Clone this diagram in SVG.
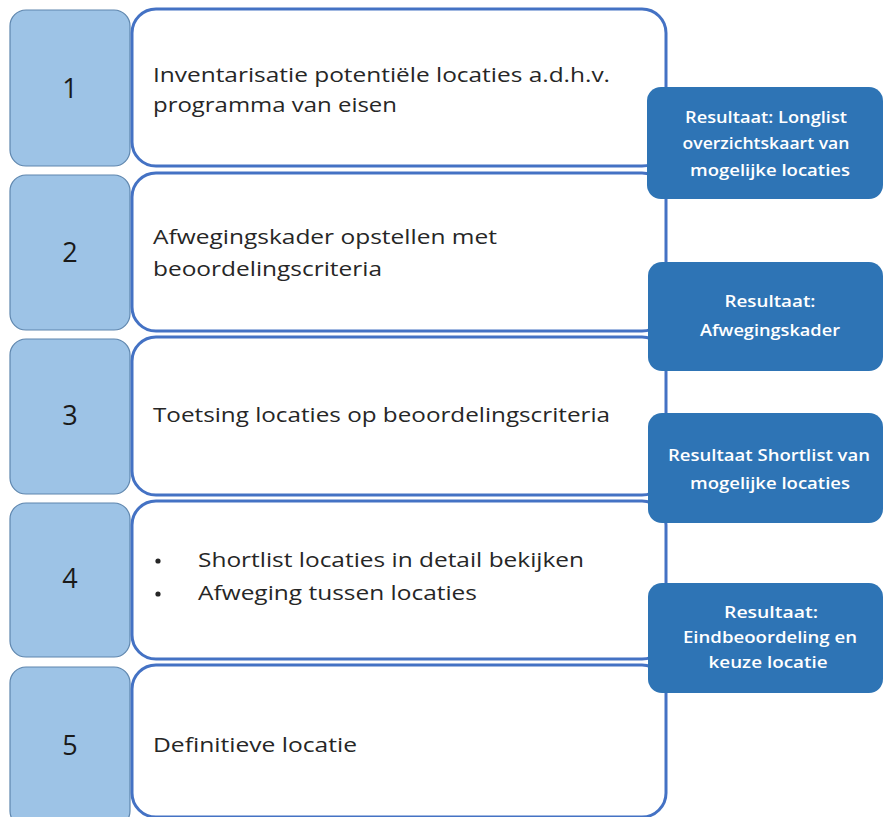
<svg xmlns="http://www.w3.org/2000/svg" width="884" height="817" viewBox="0 0 884 817">
<style>
.num{fill:#9DC3E6;stroke:#5E86AE;stroke-width:1.2}
.step{fill:#FFFFFF;stroke:#4472C4;stroke-width:3}
.res{fill:#2E74B5;stroke:none}
.nt{font-family:"Open Sans","Liberation Sans",sans-serif;font-size:27px;fill:#1a1a1a;text-anchor:middle}
.st{font-family:"Open Sans","Liberation Sans",sans-serif;font-size:20.5px;fill:#262626}
.rt{font-family:"Open Sans","Liberation Sans",sans-serif;font-size:15.5px;fill:#FFFFFF;text-anchor:middle;font-weight:600}
</style>
<rect width="884" height="817" fill="#FFFFFF"/>
<g id="step1">
<rect class="num" x="10" y="10" width="120" height="156" rx="16"/>
<text class="nt" x="70" y="98">1</text>
<rect class="step" x="132" y="9" width="534" height="157" rx="24"/>
<text class="st" x="153" y="82" textLength="457" lengthAdjust="spacingAndGlyphs">Inventarisatie potentiële locaties a.d.h.v.</text>
<text class="st" x="153" y="112" textLength="244" lengthAdjust="spacingAndGlyphs">programma van eisen</text>
</g>
<g id="step2">
<rect class="num" x="10" y="175" width="120" height="155" rx="16"/>
<text class="nt" x="70" y="262">2</text>
<rect class="step" x="132" y="173" width="534" height="158" rx="24"/>
<text class="st" x="153" y="244" textLength="344" lengthAdjust="spacingAndGlyphs">Afwegingskader opstellen met</text>
<text class="st" x="153" y="276" textLength="229" lengthAdjust="spacingAndGlyphs">beoordelingscriteria</text>
</g>
<g id="step3">
<rect class="num" x="10" y="339" width="120" height="155" rx="16"/>
<text class="nt" x="70" y="425">3</text>
<rect class="step" x="132" y="337" width="534" height="158" rx="24"/>
<text class="st" x="153" y="422" textLength="457" lengthAdjust="spacingAndGlyphs">Toetsing locaties op beoordelingscriteria</text>
</g>
<g id="step4">
<rect class="num" x="10" y="503" width="120" height="154" rx="16"/>
<text class="nt" x="70" y="588">4</text>
<rect class="step" x="132" y="501" width="534" height="158" rx="24"/>
<circle cx="158" cy="561" r="2.6" fill="#262626"/>
<text class="st" x="198" y="567" textLength="386" lengthAdjust="spacingAndGlyphs">Shortlist locaties in detail bekijken</text>
<circle cx="158" cy="594" r="2.6" fill="#262626"/>
<text class="st" x="198" y="600" textLength="279" lengthAdjust="spacingAndGlyphs">Afweging tussen locaties</text>
</g>
<g id="step5">
<rect class="num" x="10" y="667" width="120" height="160" rx="16"/>
<text class="nt" x="70" y="755">5</text>
<rect class="step" x="132" y="665" width="534" height="152" rx="24"/>
<text class="st" x="153" y="752" textLength="204" lengthAdjust="spacingAndGlyphs">Definitieve locatie</text>
</g>
<g id="result1">
<rect class="res" x="647" y="87" width="236" height="112" rx="14"/>
<text class="rt" x="766" y="123" textLength="162" lengthAdjust="spacingAndGlyphs">Resultaat: Longlist</text>
<text class="rt" x="766" y="149" textLength="167" lengthAdjust="spacingAndGlyphs">overzichtskaart van</text>
<text class="rt" x="770" y="176" textLength="160" lengthAdjust="spacingAndGlyphs">mogelijke locaties</text>
</g>
<g id="result2">
<rect class="res" x="648" y="262" width="235" height="109" rx="14"/>
<text class="rt" x="770" y="307" textLength="91" lengthAdjust="spacingAndGlyphs">Resultaat:</text>
<text class="rt" x="770" y="336" textLength="140" lengthAdjust="spacingAndGlyphs">Afwegingskader</text>
</g>
<g id="result3">
<rect class="res" x="648" y="413" width="235" height="110" rx="14"/>
<text class="rt" x="769" y="461" textLength="202" lengthAdjust="spacingAndGlyphs">Resultaat  Shortlist van</text>
<text class="rt" x="770" y="489" textLength="160" lengthAdjust="spacingAndGlyphs">mogelijke locaties</text>
</g>
<g id="result4">
<rect class="res" x="648" y="583" width="235" height="110" rx="14"/>
<text class="rt" x="771" y="618" textLength="94" lengthAdjust="spacingAndGlyphs">Resultaat:</text>
<text class="rt" x="770" y="643" textLength="174" lengthAdjust="spacingAndGlyphs">Eindbeoordeling en</text>
<text class="rt" x="768" y="668" textLength="119" lengthAdjust="spacingAndGlyphs">keuze locatie</text>
</g>
<g id="connectors"></g>
</svg>
